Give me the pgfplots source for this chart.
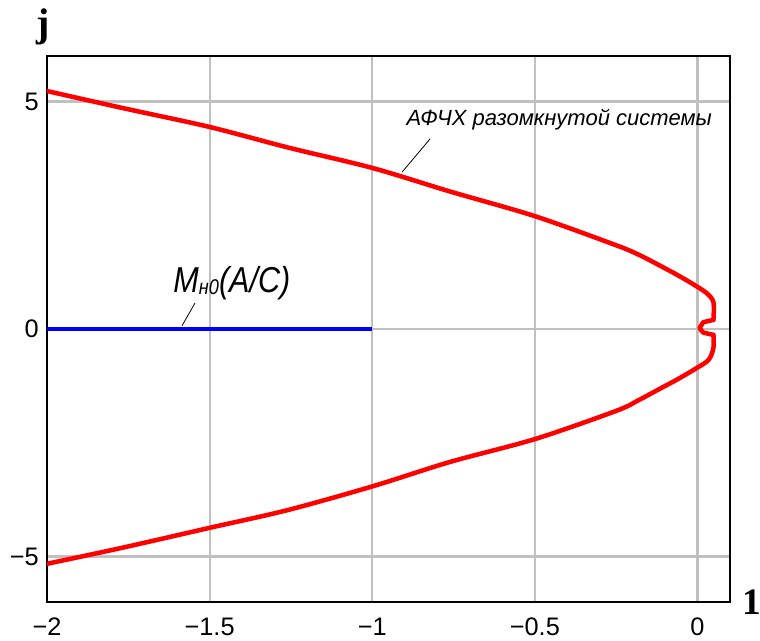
\documentclass[border=0pt]{standalone}
\usepackage{fontspec}
\setmainfont{Liberation Sans}
\newfontfamily\seriffont{Liberation Serif}
\usepackage{graphicx}
\usepackage{pgfplots}
\pgfplotsset{compat=1.18}
\definecolor{gridgray}{RGB}{192,192,192}
\begin{document}
\begin{tikzpicture}
\useasboundingbox (-35.25pt,-29.25pt) rectangle (534.75pt,451.5pt);
\begin{axis}[
  at={(0,0)}, anchor=south west,
  scale only axis, width=512.25pt, height=409.5pt,
  xmin=-2, xmax=0.1, ymin=-6, ymax=6,
  xtick={-2,-1.5,-1,-0.5,0}, xticklabels={−2,−1.5,−1,−0.5,0},
  ytick={-5,0,5}, yticklabels={−5,0,5},
  major tick length=0pt,
  grid=major,
  major grid style={color=gridgray, line width=1.6pt},
  axis line style={black, line width=1.5pt},
  tick label style={font=\fontsize{19}{19}\selectfont},
  xticklabel style={inner sep=0pt, anchor=north, yshift=-12pt},
  yticklabel style={inner sep=0pt, anchor=east, xshift=-6pt},
]
\addplot[color=red, line width=3.4pt, line join=round, line cap=round, smooth, tension=0.5] coordinates {
(-2.000, 5.23) (-1.770, 4.86) (-1.500, 4.44) (-1.260, 3.99) (-1.000, 3.54)
(-0.760, 3.02) (-0.500, 2.48) (-0.250, 1.84) (-0.180, 1.63) (-0.120, 1.41)
(-0.060, 1.18) (-0.010, 0.97) (0.028, 0.79) (0.049, 0.59) (0.049, 0.20)
};
\addplot[color=red, line width=3.4pt, line join=round, line cap=round] coordinates {
(0.049, 0.20) (0.018, 0.15) (0.006, 0.02) (0.018, -0.08) (0.049, -0.13)
};
\addplot[color=red, line width=3.4pt, line join=round, line cap=round, smooth, tension=0.5] coordinates {
(0.049, -0.13) (0.049, -0.42)
(0.034, -0.68) (-0.003, -0.86) (-0.060, -1.10) (-0.120, -1.33) (-0.180, -1.56)
(-0.250, -1.80) (-0.500, -2.42) (-0.760, -2.92) (-1.000, -3.46) (-1.260, -3.98)
(-1.500, -4.37) (-1.770, -4.81) (-2.000, -5.16)
};
\addplot[color=blue, line width=3pt] coordinates {(-2,0) (-1,0)};
\draw[black, line width=0.6pt] (axis cs:-0.822,4.18) -- (axis cs:-0.908,3.45);
\draw[black, line width=0.6pt] (axis cs:-1.545,0.57) -- (axis cs:-1.585,0.07);
\node[anchor=base west, inner sep=0pt, font=\itshape\fontsize{16.5}{16.5}\selectfont] at (axis cs:-0.895,4.48) {АФЧХ разомкнутой системы};
\node[anchor=base west, inner sep=0pt] at (axis cs:-1.612,0.81) {\scalebox{0.85}[1]{\itshape\fontsize{27}{27}\selectfont M\raisebox{-1.5pt}{\fontsize{16}{16}\selectfont н0}(A/C)}};
\end{axis}
\node[inner sep=0pt, font=\seriffont\bfseries\fontsize{30}{30}\selectfont] at (-3pt,431.25pt) {j};
\node[inner sep=0pt, font=\seriffont\bfseries\fontsize{28}{28}\selectfont] at (528.5pt,0pt) {1};
\end{tikzpicture}
\end{document}
